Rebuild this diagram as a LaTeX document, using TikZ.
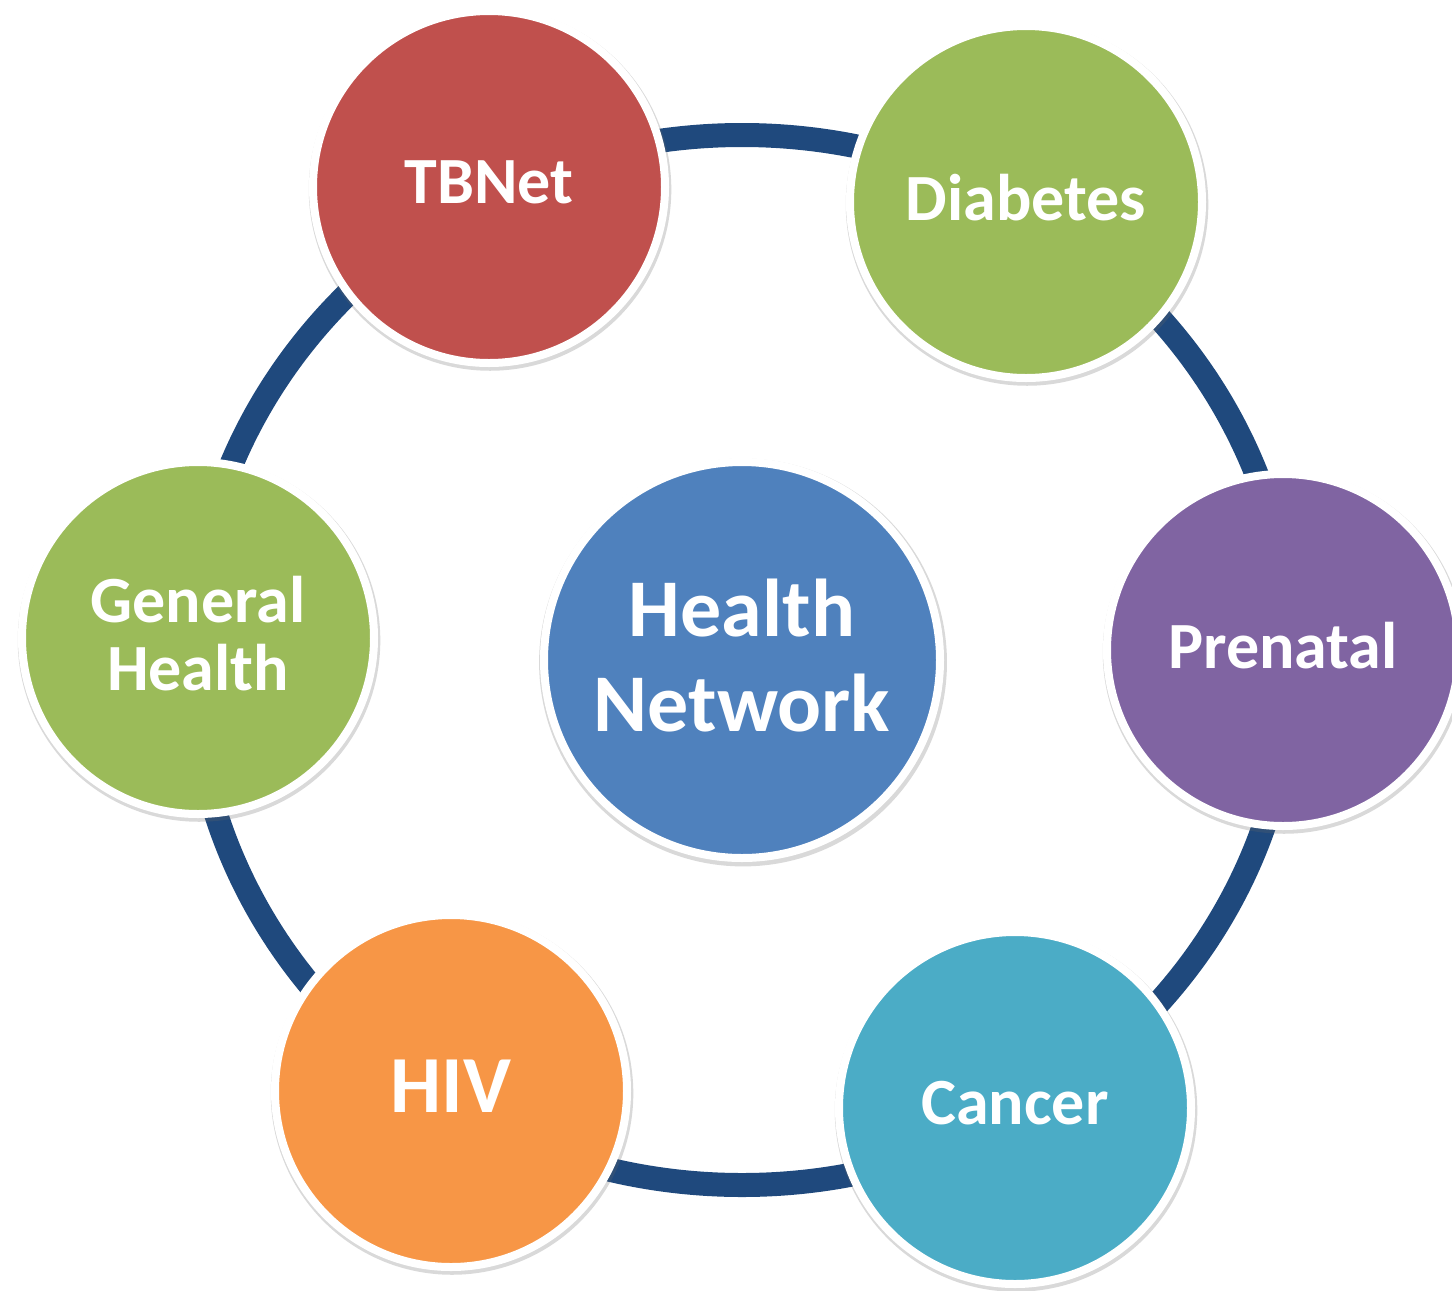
\documentclass[tikz,border=0pt]{standalone}
\usepackage{fontspec}
\setmainfont{Carlito}
\usetikzlibrary{shapes,shadows,positioning}

\definecolor{ringblue}{HTML}{1F497D}
\definecolor{hubblue}{HTML}{4F81BD}
\definecolor{tbred}{HTML}{C0504D}
\definecolor{leafgreen}{HTML}{9BBB59}
\definecolor{plum}{HTML}{8064A2}
\definecolor{teal}{HTML}{4BACC6}
\definecolor{tangerine}{HTML}{F79646}

\begin{document}
\begin{tikzpicture}[x=0.5pt, y=-0.5pt,
  bubble/.style={circle, draw=white, line width=4pt, minimum size=176pt, inner sep=0pt,
    text=white, align=center, text depth=5pt, font=\bfseries\fontsize{33}{34}\selectfont,
    drop shadow={shadow scale=1.03, shadow xshift=0.5pt, shadow yshift=-1.2pt,
      opacity=0.25, fill=black!60}},
  ring/.style={draw=ringblue, line width=12pt}]
\useasboundingbox (0,0) rectangle (1452,1291);

% hub in the middle
\node[bubble, fill=hubblue, minimum size=198pt,
      font=\bfseries\fontsize{41}{47.5}\selectfont] (hub) at (742,660) {Health\\Network};

% ring round the hub
\draw[ring] (hub.center) ellipse [x radius=275pt, y radius=262.5pt];

% the six networks
\node[bubble, fill=tbred] (tbnet) at (489,187) {TBNet};
\node[bubble, fill=leafgreen] (diabetes) at (1026,202) {Diabetes};
\node[bubble, fill=plum] (prenatal) at (1283,650) {Prenatal};
\node[bubble, fill=teal] (cancer) at (1015,1108) {Cancer};
\node[bubble, fill=tangerine, font=\bfseries\fontsize{40.5}{42}\selectfont] (hiv) at (451,1091) {HIV};
\node[bubble, fill=leafgreen] (general) at (198,638) {General\\Health};
\end{tikzpicture}
\end{document}
